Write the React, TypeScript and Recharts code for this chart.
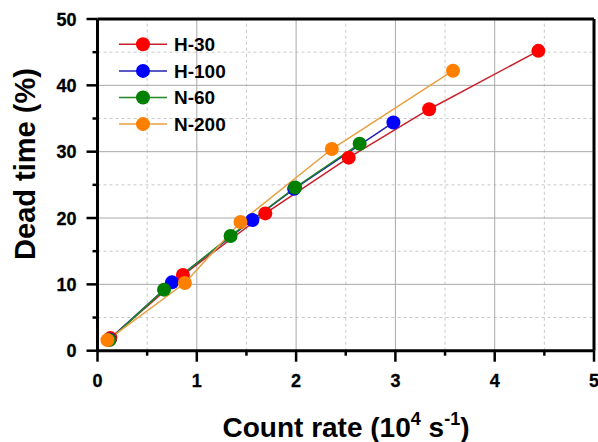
import React from "react";
import { LineChart, Line, XAxis, YAxis, ReferenceLine } from "recharts";

const h30X = [0.13, 0.86, 1.69, 2.53, 3.34, 4.44];
const h30Y = [1.9, 11.4, 20.7, 29.1, 36.4, 45.2];
const h100X = [0.12, 0.75, 1.56, 1.98, 2.98];
const h100Y = [1.7, 10.3, 19.7, 24.4, 34.4];
const n60X = [0.12, 0.67, 1.34, 1.99, 2.64];
const n60Y = [1.6, 9.2, 17.3, 24.6, 31.2];
const n200X = [0.1, 0.88, 1.44, 2.36, 3.58];
const n200Y = [1.6, 10.2, 19.4, 30.4, 42.2];

const seriesNames = ["H-30", "H-100", "N-60", "N-200"];
const markerColors = ["#ff0000", "#0000ff", "#008000", "#ff8000"];
const lineColors = ["#c8202a", "#2020b0", "#228822", "#e8a040"];

const xTicks = [0, 0.5, 1, 1.5, 2, 2.5, 3, 3.5, 4, 4.5, 5];
const yTicks = [0, 5, 10, 15, 20, 25, 30, 35, 40, 45, 50];
const xMajorGrid = [1, 2, 3, 4];
const xMinorGrid = [0.5, 1.5, 2.5, 3.5, 4.5];
const yMajorGrid = [10, 20, 30, 40];
const yMinorGrid = [5, 15, 25, 35, 45];
const xFrame = [0, 5];
const yFrame = [0, 50];

const toPoints = (xs: number[], ys: number[]) => xs.map((x, i) => ({ x, y: ys[i] }));
const seriesData = [
  toPoints(h30X, h30Y),
  toPoints(h100X, h100Y),
  toPoints(n60X, n60Y),
  toPoints(n200X, n200Y),
];

const FONT = "'Liberation Sans', Arial, sans-serif";

const XTick = (props: any) => {
  const { x, y, payload } = props;
  const major = Number.isInteger(payload.value);
  return (
    <g>
      <line x1={x} x2={x} y1={y} y2={y + (major ? 11 : 5)} stroke="#000" strokeWidth={2.5} />
      {major && (
        <text x={x} y={y + 36.5} textAnchor="middle" fontFamily={FONT} fontWeight={700} fontSize={18} fill="#000" stroke="#000" strokeWidth={0.3}>
          {payload.value}
        </text>
      )}
    </g>
  );
};

const YTick = (props: any) => {
  const { x, y, payload } = props;
  const major = payload.value % 10 === 0;
  return (
    <g>
      <line x1={x} x2={x - (major ? 11 : 5)} y1={y} y2={y} stroke="#000" strokeWidth={2.5} />
      {major && (
        <text x={x - 21} y={y + 6.5} textAnchor="end" fontFamily={FONT} fontWeight={700} fontSize={18} fill="#000" stroke="#000" strokeWidth={0.3}>
          {payload.value}
        </text>
      )}
    </g>
  );
};

export default function App() {
  return (
    <div style={{ position: "absolute", left: 0, top: 0, width: 598, height: 442, background: "#fff" }}>
      <LineChart
        width={598}
        height={442}
        margin={{ top: 19, right: 4, bottom: 31.3, left: 37.5 }}
      >
        <XAxis
          dataKey="x"
          type="number"
          domain={[0, 5]}
          ticks={xTicks}
          interval={0}
          allowDataOverflow
          height={60}
          tickSize={0}
          tickMargin={0}
          tickLine={false}
          tick={<XTick />}
          axisLine={false}
        />
        <YAxis
          type="number"
          domain={[0, 50]}
          ticks={yTicks}
          interval={0}
          allowDataOverflow
          width={60}
          tickSize={0}
          tickMargin={0}
          tickLine={false}
          tick={<YTick />}
          axisLine={false}
        />
        {xMinorGrid.map((v) => (
          <ReferenceLine key={"xm" + v} x={v} stroke="#c8c8c8" strokeDasharray="3 3" strokeWidth={1} />
        ))}
        {yMinorGrid.map((v) => (
          <ReferenceLine key={"ym" + v} y={v} stroke="#c8c8c8" strokeDasharray="3 3" strokeWidth={1} />
        ))}
        {xMajorGrid.map((v) => (
          <ReferenceLine key={"xM" + v} x={v} stroke="#a8a8a8" strokeWidth={1} />
        ))}
        {yMajorGrid.map((v) => (
          <ReferenceLine key={"yM" + v} y={v} stroke="#a8a8a8" strokeWidth={1} />
        ))}
        {xFrame.map((v) => (
          <ReferenceLine key={"xF" + v} x={v} stroke="#000" strokeWidth={3} />
        ))}
        {yFrame.map((v) => (
          <ReferenceLine key={"yF" + v} y={v} stroke="#000" strokeWidth={3} />
        ))}
        {seriesData.map((d, i) => (
          <Line
            key={seriesNames[i]}
            data={d}
            dataKey="y"
            name={seriesNames[i]}
            type="linear"
            stroke={lineColors[i]}
            strokeWidth={1.5}
            dot={{ r: 7, fill: markerColors[i], stroke: markerColors[i], strokeWidth: 0 }}
            isAnimationActive={false}
          />
        ))}
      </LineChart>
      <svg
        width={598}
        height={442}
        style={{ position: "absolute", left: 0, top: 0, pointerEvents: "none" }}
      >
        {seriesNames.map((n, i) => {
          const cy = 44.3 + i * 26.6;
          return (
            <g key={n}>
              <line x1={119} x2={167} y1={cy} y2={cy} stroke={lineColors[i]} strokeWidth={1.5} />
              <circle cx={143} cy={cy} r={7} fill={markerColors[i]} />
              <text x={174} y={cy + 6.8} fontFamily={FONT} fontWeight="bold" fontSize={19} fill="#000">
                {n}
              </text>
            </g>
          );
        })}
        <text
          transform="translate(35,164) rotate(-90)"
          textAnchor="middle"
          fontFamily={FONT}
          fontWeight="bold"
          fontSize={29}
          fill="#000"
        >
          Dead time (%)
        </text>
        <text x={346} y={437} textAnchor="middle" fontFamily={FONT} fontWeight="bold" fontSize={28} fill="#000">
          Count rate (10
          <tspan fontSize={18} dy={-12}>4</tspan>
          <tspan dy={12}> s</tspan>
          <tspan fontSize={18} dy={-12}>-1</tspan>
          <tspan dy={12}>)</tspan>
        </text>
      </svg>
    </div>
  );
}
